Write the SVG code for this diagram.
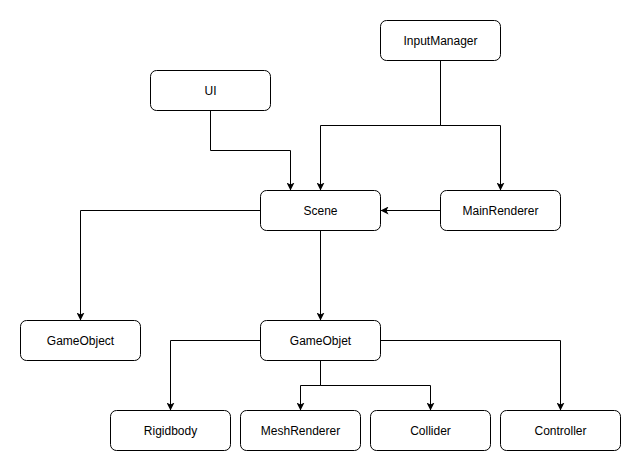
<svg xmlns="http://www.w3.org/2000/svg" width="641" height="472" viewBox="0 0 641 472">
<style>
.box{fill:#ffffff;stroke:#000000;stroke-width:1}
.lbl{font-family:"Liberation Sans",Arial,sans-serif;font-size:12px;fill:#000000;text-anchor:middle;dominant-baseline:central}
.edge{fill:none;stroke:#000000;stroke-width:1;marker-end:url(#arr)}
</style>
<defs>
<marker id="arr" markerUnits="userSpaceOnUse" viewBox="0 0 8 8" markerWidth="8" markerHeight="8" refX="8" refY="4" orient="auto">
<path d="M0,0 L8,4 L0,8 L2,4 Z" fill="#000000"/>
</marker>
</defs>
<rect width="641" height="472" fill="#ffffff"/>
<g id="connectors" transform="translate(0.5,0.5)">
<path class="edge" d="M440,60 V125 H320 V190"/>
<path class="edge" d="M440,60 V125 H500 V190"/>
<path class="edge" d="M210,110 V150 H290 V190"/>
<path class="edge" d="M440,210 H380"/>
<path class="edge" d="M260,210 H80 V320"/>
<path class="edge" d="M320,230 V320"/>
<path class="edge" d="M260,340 H170 V410"/>
<path class="edge" d="M320,360 V385 H300 V410"/>
<path class="edge" d="M320,360 V385 H430 V410"/>
<path class="edge" d="M380,340 H560 V410"/>
</g>
<g id="InputManager" transform="translate(0.5,0.5)"><rect class="box" x="380" y="20" width="120" height="40" rx="6"/><text class="lbl" x="440" y="40">InputManager</text></g>
<g id="UI" transform="translate(0.5,0.5)"><rect class="box" x="150" y="70" width="120" height="40" rx="6"/><text class="lbl" x="210" y="90">UI</text></g>
<g id="Scene" transform="translate(0.5,0.5)"><rect class="box" x="260" y="190" width="120" height="40" rx="6"/><text class="lbl" x="320" y="210">Scene</text></g>
<g id="MainRenderer" transform="translate(0.5,0.5)"><rect class="box" x="440" y="190" width="120" height="40" rx="6"/><text class="lbl" x="500" y="210">MainRenderer</text></g>
<g id="GameObject" transform="translate(0.5,0.5)"><rect class="box" x="20" y="320" width="120" height="40" rx="6"/><text class="lbl" x="80" y="340">GameObject</text></g>
<g id="GameObjet" transform="translate(0.5,0.5)"><rect class="box" x="260" y="320" width="120" height="40" rx="6"/><text class="lbl" x="320" y="340">GameObjet</text></g>
<g id="Rigidbody" transform="translate(0.5,0.5)"><rect class="box" x="110" y="410" width="120" height="40" rx="6"/><text class="lbl" x="170" y="430">Rigidbody</text></g>
<g id="MeshRenderer" transform="translate(0.5,0.5)"><rect class="box" x="240" y="410" width="120" height="40" rx="6"/><text class="lbl" x="300" y="430">MeshRenderer</text></g>
<g id="Collider" transform="translate(0.5,0.5)"><rect class="box" x="370" y="410" width="120" height="40" rx="6"/><text class="lbl" x="430" y="430">Collider</text></g>
<g id="Controller" transform="translate(0.5,0.5)"><rect class="box" x="500" y="410" width="120" height="40" rx="6"/><text class="lbl" x="560" y="430">Controller</text></g>
</svg>
